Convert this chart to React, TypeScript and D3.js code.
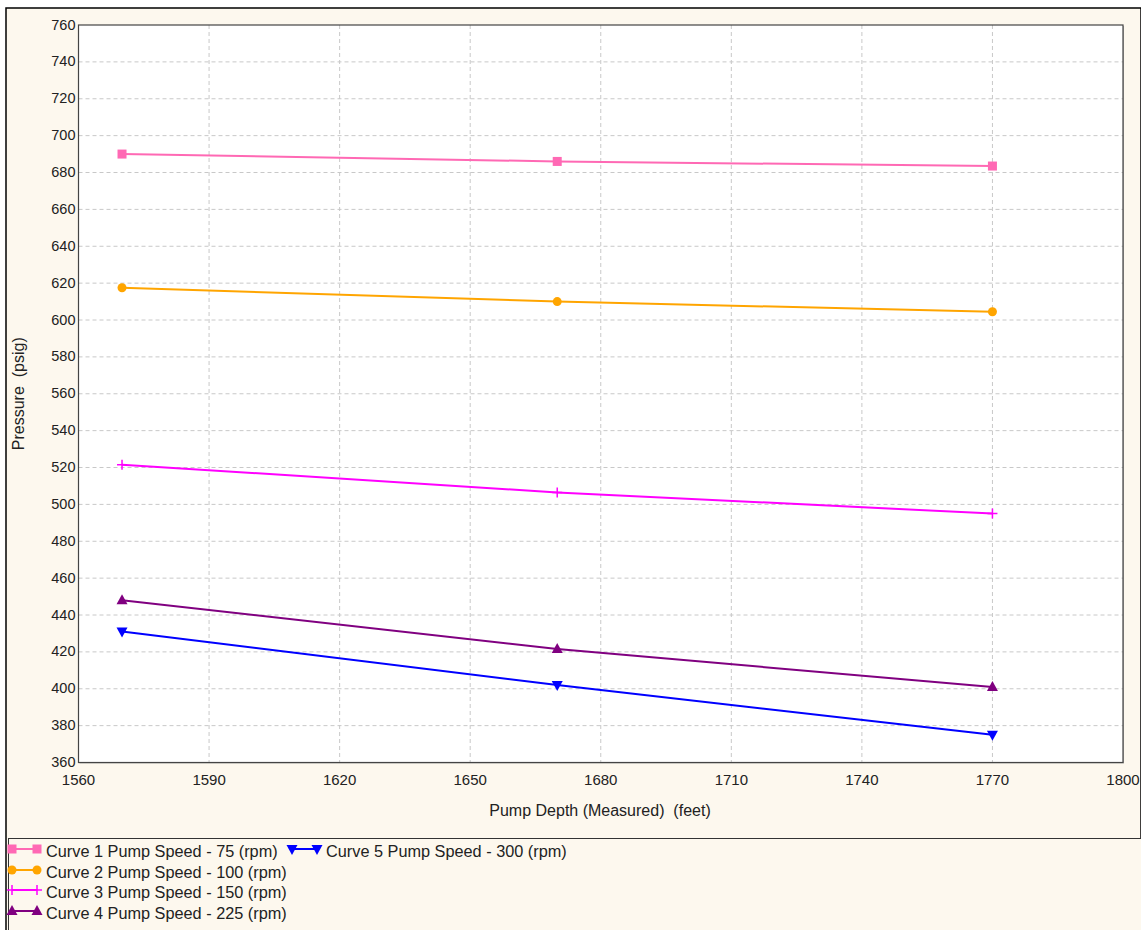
import React from "react";
import * as d3 from "d3";

const depths = [1570, 1670, 1770];
const curve1 = [690, 686, 683.5];
const curve2 = [617.5, 610, 604.5];
const curve3 = [521.5, 506.5, 495];
const curve4 = [448, 421.5, 401];
const curve5 = [431, 402, 375];
const xTicks = [1560, 1590, 1620, 1650, 1680, 1710, 1740, 1770, 1800];
const yTicks = d3.range(360, 761, 20);
const seriesNames = [
  "Curve 1 Pump Speed - 75 (rpm)",
  "Curve 2 Pump Speed - 100 (rpm)",
  "Curve 3 Pump Speed - 150 (rpm)",
  "Curve 4 Pump Speed - 225 (rpm)",
  "Curve 5 Pump Speed - 300 (rpm)",
];
const seriesColors = ["#FF69B4", "#FFA500", "#FF00FF", "#800080", "#0000FF"];
const seriesMarkers = ["square", "circle", "plus", "triangle", "triangleDown"];
const seriesValues = [curve1, curve2, curve3, curve4, curve5];

const W = 1141, H = 930;
const L = 78.5, T = 25, R = 1123, B = 762.5;
const FONT = "'Liberation Sans', Arial, sans-serif";

function Marker({ type, x, y, color }: { type: string; x: number; y: number; color: string }) {
  const s = 4.5;
  if (type === "square") return <rect x={x - s} y={y - s} width={2 * s} height={2 * s} fill={color} />;
  if (type === "circle") return <circle cx={x} cy={y} r={4.5} fill={color} />;
  if (type === "plus")
    return (
      <path d={`M${x - 5},${y}H${x + 5}M${x},${y - 5}V${y + 5}`} stroke={color} strokeWidth={1.5} fill="none" />
    );
  if (type === "triangle")
    return <path d={`M${x},${y - 6}L${x + 5.5},${y + 4}L${x - 5.5},${y + 4}Z`} fill={color} />;
  return <path d={`M${x},${y + 6}L${x + 5.5},${y - 4}L${x - 5.5},${y - 4}Z`} fill={color} />;
}

export default function App() {
  const x = d3.scaleLinear().domain([1560, 1800]).range([L, R]);
  const y = d3.scaleLinear().domain([360, 760]).range([B, T]);
  const line = d3
    .line<[number, number]>()
    .x((d) => x(d[0]))
    .y((d) => y(d[1]));

  const legendPos = [
    { x: 9, y: 852 },
    { x: 9, y: 873 },
    { x: 9, y: 893 },
    { x: 9, y: 914 },
    { x: 289, y: 852 },
  ];

  return (
    <svg
      width={W}
      height={H}
      style={{ position: "absolute", left: 0, top: 0, display: "block", whiteSpace: "pre" }}
      fontFamily={FONT}
    >
      <rect x={0} y={0} width={W} height={H} fill="#ffffff" />
      <rect x={6} y={8} width={W - 6} height={H} fill="#FDF8EE" stroke="#000" strokeWidth={1.5} />
      {/* plot area */}
      <rect x={L + 1} y={T + 1} width={R - L} height={B - T} fill="#888" opacity={0.6} />
      <rect x={L} y={T} width={R - L} height={B - T} fill="#ffffff" />
      {xTicks.slice(1, -1).map((t) => (
        <line key={"gx" + t} x1={x(t)} x2={x(t)} y1={T} y2={B} stroke="#c8c8c8" strokeDasharray="4,3" />
      ))}
      {yTicks.slice(1, -1).map((t) => (
        <line key={"gy" + t} x1={L} x2={R} y1={y(t)} y2={y(t)} stroke="#c8c8c8" strokeDasharray="4,3" />
      ))}
      <rect x={L} y={T} width={R - L} height={B - T} fill="none" stroke="#444" strokeWidth={1.2} />
      {yTicks.map((t) => (
        <text key={"ty" + t} x={L - 3} y={y(t) + 4.5} textAnchor="end" fontSize={14.5} fill="#222">
          {t}
        </text>
      ))}
      {xTicks.map((t) => (
        <text key={"tx" + t} x={x(t)} y={B + 22.5} textAnchor="middle" fontSize={15} fill="#222">
          {t}
        </text>
      ))}
      <text x={600} y={816} textAnchor="middle" fontSize={16} fill="#222" xmlSpace="preserve">
        {"Pump Depth (Measured)  (feet)"}
      </text>
      <text
        transform={`translate(24,${(T + B) / 2}) rotate(-90)`}
        textAnchor="middle"
        fontSize={16}
        fill="#222"
        xmlSpace="preserve"
      >
        {"Pressure  (psig)"}
      </text>
      {seriesValues.map((vals, i) => {
        const pts = depths.map((d, j) => [d, vals[j]] as [number, number]);
        return (
          <g key={"s" + i}>
            <path d={line(pts) || ""} fill="none" stroke={seriesColors[i]} strokeWidth={2} />
            {pts.map((p, j) => (
              <Marker key={j} type={seriesMarkers[i]} x={x(p[0])} y={y(p[1])} color={seriesColors[i]} />
            ))}
          </g>
        );
      })}
      {/* legend */}
      <rect x={8.5} y={838.5} width={W - 4} height={H} fill="#FDF8EE" stroke="#333" strokeWidth={1} />
      {seriesNames.map((n, i) => {
        const p = legendPos[i];
        return (
          <g key={"lg" + i}>
            <line x1={p.x + 3} x2={p.x + 28} y1={p.y - 3} y2={p.y - 3} stroke={seriesColors[i]} strokeWidth={2} />
            <Marker type={seriesMarkers[i]} x={p.x + 3} y={p.y - 3} color={seriesColors[i]} />
            <Marker type={seriesMarkers[i]} x={p.x + 28} y={p.y - 3} color={seriesColors[i]} />
            <text x={p.x + 37} y={p.y + 5} fontSize={16.3} fill="#222">
              {n}
            </text>
          </g>
        );
      })}
    </svg>
  );
}
